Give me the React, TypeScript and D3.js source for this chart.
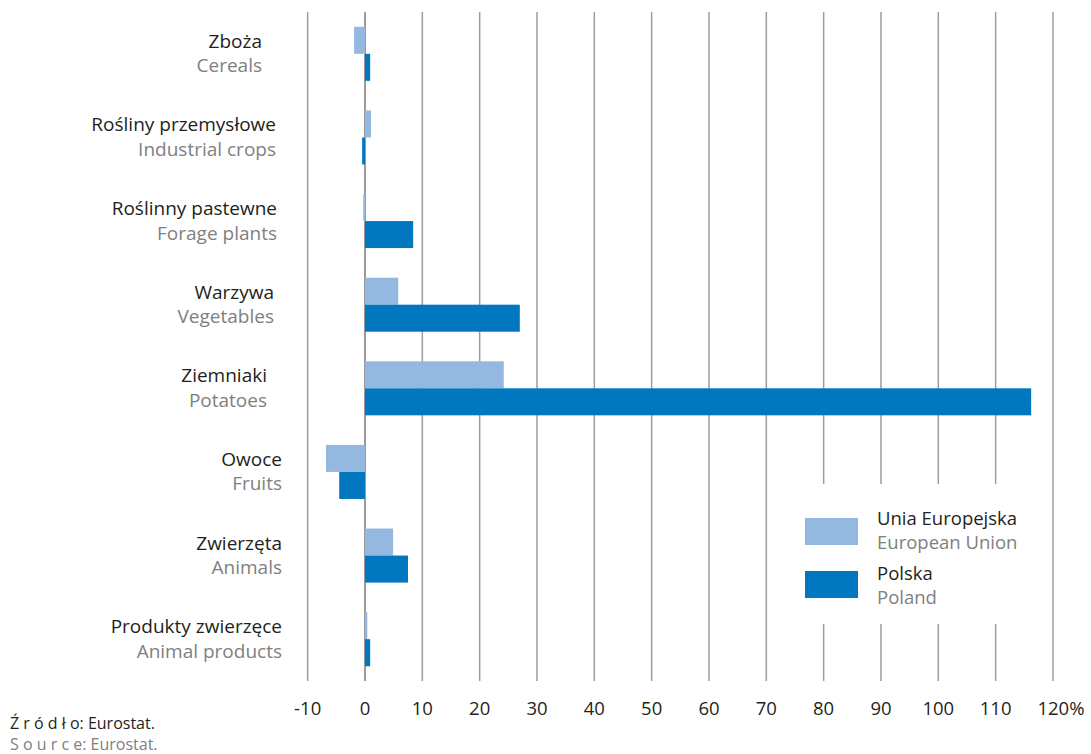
import React from "react";
import * as d3 from "d3";

const categoriesPL = ["Zboża", "Rośliny przemysłowe", "Roślinny pastewne", "Warzywa", "Ziemniaki", "Owoce", "Zwierzęta", "Produkty zwierzęce"];
const categoriesEN = ["Cereals", "Industrial crops", "Forage plants", "Vegetables", "Potatoes", "Fruits", "Animals", "Animal products"];
const euValues = [-1.9, 1.05, -0.3, 5.8, 24.2, -6.8, 4.9, 0.4];
const plValues = [0.9, -0.5, 8.4, 27.0, 116.2, -4.5, 7.5, 0.9];
const ticks = [-10, 0, 10, 20, 30, 40, 50, 60, 70, 80, 90, 100, 110, 120];
const seriesPL = ["Unia Europejska", "Polska"];
const seriesEN = ["European Union", "Poland"];

const labelRight = [262, 276, 277, 274, 267, 282, 282, 282];
const COLORS = ["#94b8df", "#0077be"];
const FONT = "'Open Sans', 'Noto Sans', sans-serif";

export default function App() {
  const W = 1091, H = 754;
  const x = d3.scaleLinear().domain([0, 10]).range([365, 422.33]);
  const y = d3.scaleBand<number>().domain(d3.range(categoriesPL.length)).range([12, 681]).paddingInner(0.354).paddingOuter(0.177);
  const bh = y.bandwidth() / 2;
  const fs = 19;
  return (
    <svg width={W} height={H} style={{ position: "absolute", left: 0, top: 0, background: "#fff" }} fontFamily={FONT}>
      {ticks.map((t) => (
        <line key={"g" + t} x1={x(t)} x2={x(t)} y1={12} y2={681} stroke={t === 0 ? "#7a7a7a" : "#9d9d9d"} strokeWidth={1.5} />
      ))}
      {ticks.map((t) => (
        <text key={"t" + t} x={x(t) + (t === 120 ? 8 : 0)} y={715} textAnchor="middle" fontSize={18.5} fill="#231f20">
          {t === 120 ? "120%" : String(t)}
        </text>
      ))}
      {categoriesPL.map((c, i) => {
        const y0 = y(i)!;
        const cy = y0 + y.bandwidth() / 2;
        return (
          <g key={c}>
            <rect x={Math.min(x(0), x(euValues[i]))} y={y0} width={Math.abs(x(euValues[i]) - x(0))} height={bh} fill={COLORS[0]} />
            <rect x={Math.min(x(0), x(plValues[i]))} y={y0 + bh} width={Math.abs(x(plValues[i]) - x(0))} height={bh} fill={COLORS[1]} />
            <text x={labelRight[i]} y={cy - 6} textAnchor="end" fontSize={fs} fill="#231f20">{c}</text>
            <text x={labelRight[i]} y={cy + 18.5} textAnchor="end" fontSize={fs} fill="#808080">{categoriesEN[i]}</text>
          </g>
        );
      })}
      <rect x={800} y={484} width={240} height={140} fill="#fff" />
      {seriesPL.map((s, i) => (
        <g key={s}>
          <rect x={805} y={518 + i * 53} width={53} height={27} fill={COLORS[i]} />
          <text x={877} y={525 + i * 55} fontSize={18.5} fill="#231f20">{s}</text>
          <text x={877} y={549 + i * 55} fontSize={18.5} fill="#808080">{seriesEN[i]}</text>
        </g>
      ))}
      <text x={10} y={729} fontSize={16} fill="#231f20">Ź r ó d ł o: Eurostat.</text>
      <text x={10} y={750} fontSize={16} fill="#808080">S o u r c e: Eurostat.</text>
    </svg>
  );
}
